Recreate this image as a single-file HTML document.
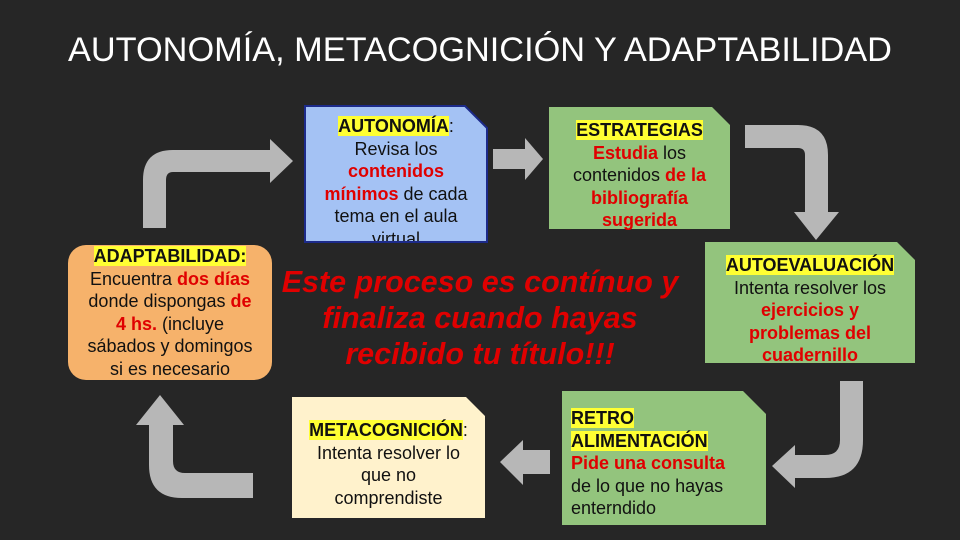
<!DOCTYPE html>
<html><head><meta charset="utf-8"><style>
body{margin:0;width:960px;height:540px;background:#262626;overflow:hidden;position:relative;font-family:"Liberation Sans",sans-serif}
.t{position:absolute;left:0;width:960px;top:31px;text-align:center;color:#fff;font-size:34.3px}
.b{position:absolute;box-sizing:border-box;font-size:18px;line-height:22.5px;color:#111;text-align:center}
.h{background:#ffff33;font-weight:bold}
.r{color:#e00000;font-weight:bold}
.m{position:absolute;left:230px;width:500px;top:264px;text-align:center;color:#e00000;font-style:italic;font-weight:bold;font-size:30.5px;line-height:36px}
</style></head><body>
<svg width="960" height="540" style="position:absolute;left:0;top:0">
<g fill="#b7b7b7">
<path d="M143,228 V180 Q143,150 173,150 H270 V139 L293,161 L270,183 V172 H173 Q166,172 166,180 V228 Z"/>
<path d="M493,149 H525 V138 L543,159 L525,180 V169 H493 Z"/>
<path d="M745,125 H798 Q828,125 828,155 V212 H839 L816,240 L794,212 H805 V155 Q805,148 798,148 H745 Z"/>
<path d="M863,381 V440 Q863,478 825,478 H795 V488 L772,466 L795,445 V455 H825 Q840,455 840,440 V381 Z"/>
<path d="M550,450 H523 V440 L500,462 L523,485 V474 H550 Z"/>
<path d="M253,473 H185 Q173,473 173,461 V425 H184 L160,395 L136,425 H149 V465 Q149,498 182,498 H253 Z"/>
</g>
<polygon points="305,106 465,106 487,128 487,242 305,242" fill="#a4c2f4" stroke="#1c2a8a" stroke-width="2"/>
<polygon points="549,107 712,107 730,125 730,229 549,229" fill="#93c47d"/>
<polygon points="705,242 897,242 915,260 915,363 705,363" fill="#93c47d"/>
<polygon points="562,391 743,391 766,414 766,525 562,525" fill="#93c47d"/>
<polygon points="292,397 466,397 485,416 485,518 292,518" fill="#fff2cc"/>
<rect x="68" y="245" width="204" height="135" rx="18" fill="#f6b26b"/>
</svg>
<div class="t">AUTONOMÍA, METACOGNICIÓN Y ADAPTABILIDAD</div>
<div class="b" style="left:305px;top:115px;width:182px;height:126px;overflow:hidden"><span class="h">AUTONOMÍA</span>:<br>Revisa los<br><span class="r">contenidos<br>mínimos</span> de cada<br>tema en el aula<br>virtual</div>
<div class="b" style="left:549px;top:119px;width:181px"><span class="h">ESTRATEGIAS</span><br><span class="r">Estudia</span> los<br>contenidos <span class="r">de la<br>bibliografía<br>sugerida</span></div>
<div class="b" style="left:705px;top:254px;width:210px"><span class="h">AUTOEVALUACIÓN</span><br>Intenta resolver los<br><span class="r">ejercicios y<br>problemas del<br>cuadernillo</span></div>
<div class="b" style="left:571px;top:407px;width:195px;text-align:left"><span class="h">RETRO<br>ALIMENTACIÓN</span><br><span class="r">Pide una consulta</span><br>de lo que no hayas<br>enterndido</div>
<div class="b" style="left:292px;top:419px;width:193px"><span class="h">METACOGNICIÓN</span>:<br>Intenta resolver lo<br>que no<br>comprendiste</div>
<div class="b" style="left:68px;top:245px;width:204px"><span class="h">ADAPTABILIDAD:</span><br>Encuentra <span class="r">dos días</span><br>donde dispongas <span class="r">de<br>4 hs.</span> (incluye<br>sábados y domingos<br>si es necesario</div>
<div class="m">Este proceso es contínuo y<br>finaliza cuando hayas<br>recibido tu título!!!</div>
</body></html>
